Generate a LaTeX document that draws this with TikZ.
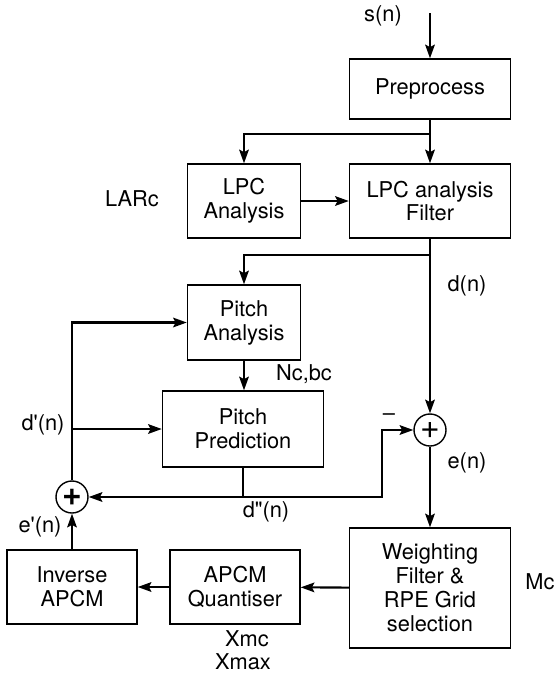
\documentclass[tikz,border=0pt]{standalone}
\usepackage{fontspec}
\setmainfont{TeX Gyre Heros}[Ligatures=TeXOff]
\usepackage{tikz}
\usetikzlibrary{
    arrows.meta
}

\begin{document}
\begin{tikzpicture}[->,>={Stealth[length=0.34cm,width=0.24cm,inset=0.06cm]},x=0.025cm,y=-0.025cm,
line width=1.5pt,
font=\fontsize{15.5}{17}\selectfont,
block node/.style={rectangle,draw,line width=1pt,align=center,inner sep=0pt},
sum node/.style={circle,draw,line width=1pt,minimum size=0.8cm,inner sep=0pt,font=\fontsize{24}{24}\selectfont},
signal node/.style={inner sep=0pt}]

\useasboundingbox (0,0) rectangle (558,673);

%Blocks
\node[block node,minimum width=4.025cm,minimum height=1.5cm] (pre) at (430,89) {Preprocess};
\node[block node,minimum width=2.825cm,minimum height=1.85cm] (lpca) at (244,201) {LPC\\Analysis};
\node[block node,minimum width=4.025cm,minimum height=1.85cm] (lpcf) at (430,201) {LPC analysis\\Filter};
\node[block node,minimum width=2.825cm,minimum height=1.875cm] (pan) at (244,322.5) {Pitch\\Analysis};
\node[block node,minimum width=4.025cm,minimum height=1.9cm] (ppr) at (243,429) {Pitch\\Prediction};
\node[block node,minimum width=4.025cm,minimum height=3cm] (wgt) at (430,588) {Weighting\\Filter \&\\RPE Grid\\selection};
\node[block node,minimum width=3.25cm,minimum height=1.85cm] (apq) at (235,587) {APCM\\Quantiser};
\node[block node,minimum width=3.25cm,minimum height=1.85cm] (iap) at (72,587) {Inverse\\APCM};

%Summing points
\node[sum node] (sub) at (430,430) {+};
\node[sum node] (add) at (72,497) {\textbf{+}};

%Signals
\node[signal node] (sn) at (383,16) {s(n)};
\node[signal node] (larc) at (132,199) {LARc};
\node[signal node] (dn) at (467,286) {d(n)};
\node[signal node] (ncbc) at (304,374) {Nc,bc};
\node[signal node] (d1n) at (43,425) {d'(n)};
\node[signal node] (minus) at (389,417) {\textendash};
\node[signal node] (en) at (467,463) {e(n)};
\node[signal node] (d2n) at (266,512) {d"(n)};
\node[signal node] (e1n) at (40,527) {e'(n)};
\node[signal node] (mc) at (540,582) {Mc};
\node[signal node] (xmc) at (247,639) {Xmc};
\node[signal node] (xmax) at (243,662) {Xmax};

%Junctions
\coordinate (in) at (430,13);
\coordinate (split1) at (430,134);
\coordinate (split2) at (430,255);
\coordinate (dpp) at (243,497);
\coordinate (fb) at (382,497);

%Paths
\draw (in) -- (pre);
\draw[-] (pre) -- (split1);
\draw (split1) -- (lpcf);
\draw (split1) -| (lpca);
\draw (lpca) -- (lpcf);
\draw[-] (lpcf) -- (split2);
\draw (split2) -| (pan);
\draw (split2) -- (sub);
\draw (pan) -- (pan |- ppr.north);
\draw[-] (ppr) -- (dpp);
\draw (dpp) -- (add);
\draw (dpp) -- (fb) |- (sub);
\draw (sub) -- (wgt);
\draw (wgt) -- (apq);
\draw (apq) -- (iap);
\draw (iap) -- (add);
\draw (add) |- (pan);
\draw (add |- ppr) -- (ppr);
\end{tikzpicture}
\end{document}
